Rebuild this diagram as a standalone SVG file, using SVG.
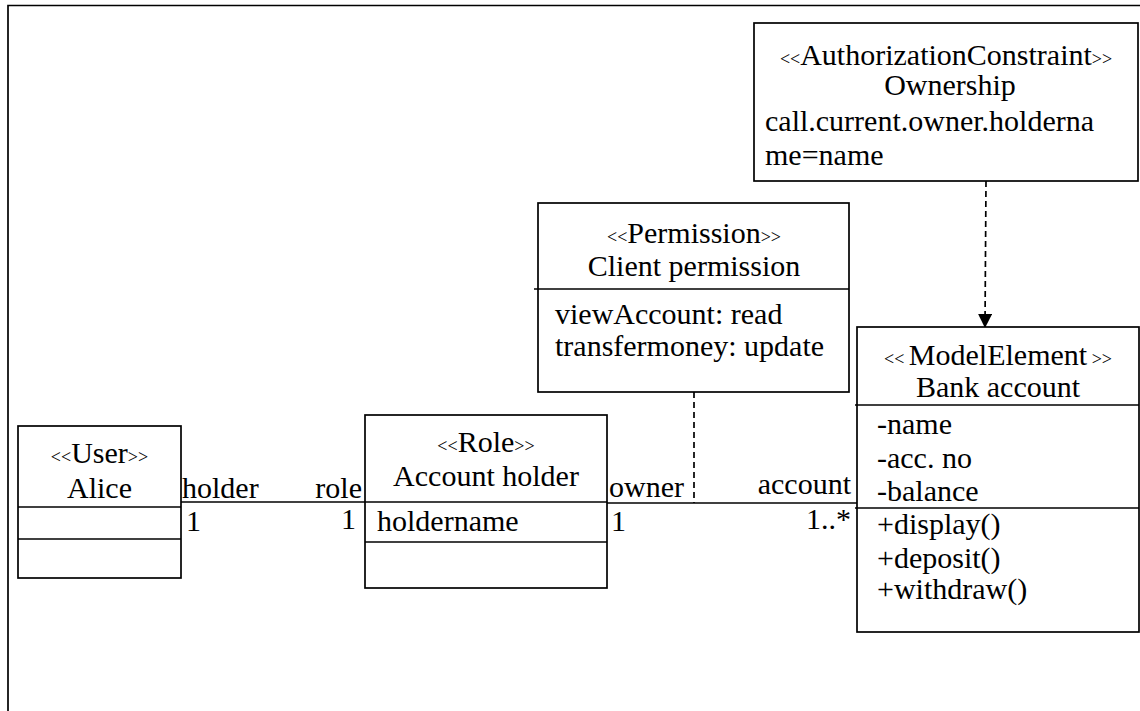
<svg xmlns="http://www.w3.org/2000/svg" width="1140" height="711" viewBox="0 0 1140 711">
<style>
.box{fill:#fff;stroke:#000;stroke-width:1.7}
.ln{stroke:#000;stroke-width:1.7;fill:none}
.dash{stroke:#000;stroke-width:1.7;fill:none;stroke-dasharray:6 4}
text{font-family:"Liberation Serif","Times New Roman",serif;font-size:30px;fill:#000}
.c{text-anchor:middle}
.e{text-anchor:end}
.s{font-size:18px}
</style>
<defs>
<marker id="arr" markerWidth="14" markerHeight="16" refX="13" refY="7" orient="auto" markerUnits="userSpaceOnUse">
<path d="M0,0 L14,7 L0,14 Z" fill="#000"/>
</marker>
</defs>
<rect width="1140" height="711" fill="#fff"/>
<path class="ln" d="M8,711 V5.5 H1140"/>

<g id="connectors">
<line class="ln" x1="181" y1="502" x2="365" y2="502"/>
<line class="ln" x1="607" y1="503" x2="857" y2="503"/>
<line class="dash" x1="694" y1="392" x2="694" y2="503"/>
<line class="dash" x1="986" y1="181" x2="985" y2="327" marker-end="url(#arr)"/>
<text x="182" y="498">holder</text>
<text class="e" x="362" y="498">role</text>
<text x="186" y="531">1</text>
<text class="e" x="356" y="529">1</text>
<text x="609" y="497">owner</text>
<text class="e" x="851" y="494">account</text>
<text x="611" y="531">1</text>
<text class="e" x="851" y="529">1..*</text>
</g>

<g id="auth">
<rect class="box" x="754" y="23" width="384" height="158"/>
<text class="c" x="946" y="65"><tspan class="s">&lt;&lt;</tspan>AuthorizationConstraint<tspan class="s">&gt;&gt;</tspan></text>
<text class="c" x="950" y="95">Ownership</text>
<text x="765" y="131">call.current.owner.holderna</text>
<text x="765" y="165">me=name</text>
</g>

<g id="permission">
<rect class="box" x="538" y="203" width="311" height="189"/>
<line class="ln" x1="534" y1="289" x2="849" y2="289"/>
<text class="c" x="694" y="243"><tspan class="s">&lt;&lt;</tspan>Permission<tspan class="s">&gt;&gt;</tspan></text>
<text class="c" x="694" y="276">Client permission</text>
<text x="555" y="324">viewAccount: read</text>
<text x="555" y="356">transfermoney: update</text>
</g>

<g id="bank">
<rect class="box" x="857" y="327" width="282" height="305"/>
<line class="ln" x1="855" y1="405" x2="1139" y2="405"/>
<line class="ln" x1="855" y1="508" x2="1139" y2="508"/>
<text class="c" x="998" y="365"><tspan class="s">&lt;&lt; </tspan>ModelElement<tspan class="s"> &gt;&gt;</tspan></text>
<text class="c" x="998" y="397">Bank account</text>
<text x="877" y="434">-name</text>
<text x="877" y="468">-acc. no</text>
<text x="877" y="501">-balance</text>
<text x="877" y="534">+display()</text>
<text x="877" y="568">+deposit()</text>
<text x="877" y="599">+withdraw()</text>
</g>

<g id="user">
<rect class="box" x="18" y="426" width="163" height="152"/>
<line class="ln" x1="18" y1="507" x2="181" y2="507"/>
<line class="ln" x1="18" y1="539" x2="181" y2="539"/>
<text class="c" x="99.5" y="463"><tspan class="s">&lt;&lt;</tspan>User<tspan class="s">&gt;&gt;</tspan></text>
<text class="c" x="99.5" y="498">Alice</text>
</g>

<g id="role">
<rect class="box" x="365" y="415" width="242" height="173"/>
<line class="ln" x1="365" y1="502" x2="607" y2="502"/>
<line class="ln" x1="365" y1="542" x2="607" y2="542"/>
<text class="c" x="486" y="452"><tspan class="s">&lt;&lt;</tspan>Role<tspan class="s">&gt;&gt;</tspan></text>
<text class="c" x="486" y="486">Account holder</text>
<text x="377" y="531">holdername</text>
</g>
</svg>
